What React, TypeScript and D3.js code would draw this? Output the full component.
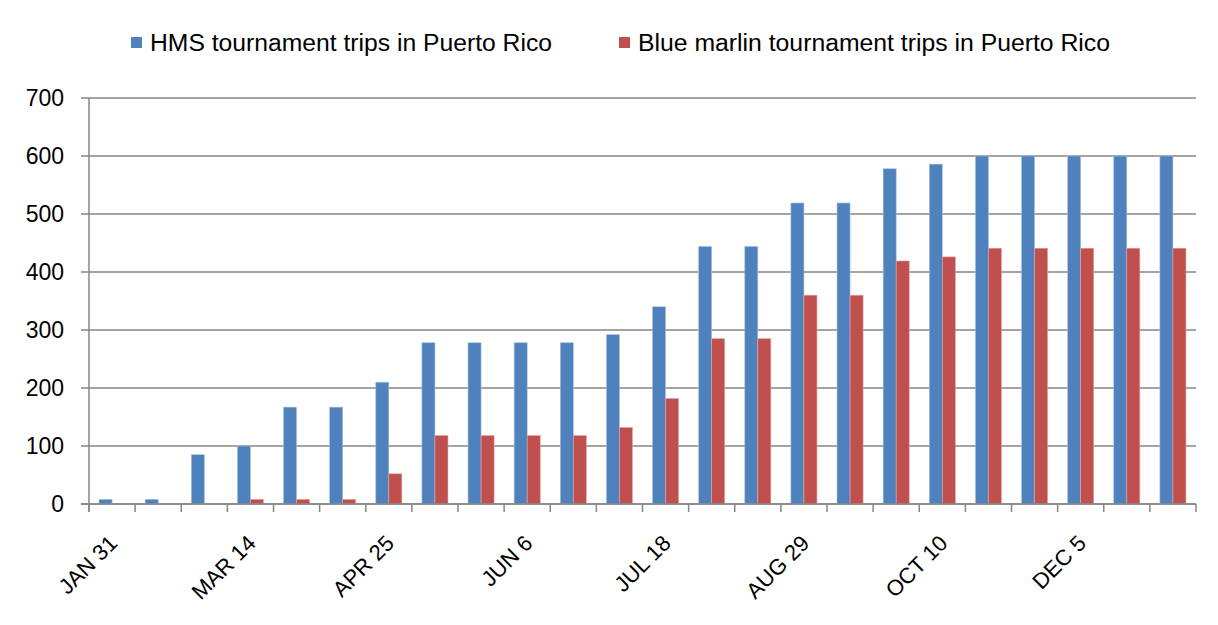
import React, { useEffect, useRef } from 'react';
import * as d3 from 'd3';

const categories = [
  'JAN 31', 'c2', 'c3', 'MAR 14', 'c5', 'c6', 'APR 25', 'c8', 'c9', 'JUN 6', 'c11', 'c12',
  'JUL 18', 'c14', 'c15', 'AUG 29', 'c17', 'c18', 'OCT 10', 'c20', 'c21', 'DEC 5', 'c23', 'c24',
];
const shownLabels = ['JAN 31', 'MAR 14', 'APR 25', 'JUN 6', 'JUL 18', 'AUG 29', 'OCT 10', 'DEC 5'];

const hmsTrips = [8, 8, 85, 100, 167, 167, 210, 278, 278, 278, 278, 292, 340, 444, 444, 519, 519, 578, 586, 600, 600, 600, 600, 600];
const blueMarlinTrips = [0, 0, 0, 8, 8, 8, 52, 118, 118, 118, 118, 132, 182, 285, 285, 360, 360, 419, 426, 441, 441, 441, 441, 441];

const seriesNames = ['HMS tournament trips in Puerto Rico', 'Blue marlin tournament trips in Puerto Rico'];
const seriesColors = ['#4f81bd', '#c0504d'];
const yTicks = [0, 100, 200, 300, 400, 500, 600, 700];

const W = 1218;
const H = 625;

const App: React.FC = () => {
  const svgRef = useRef<SVGSVGElement>(null);

  useEffect(() => {
    if (!svgRef.current) return;
    const svg = d3.select(svgRef.current);
    svg.selectAll('*').remove();

    const margin = { top: 98, right: 22, bottom: 121, left: 89 };
    const width = W - margin.left - margin.right;
    const height = H - margin.top - margin.bottom;
    const font = '"Liberation Sans", Arial, sans-serif';

    // chart frame
    svg.append('line').attr('x1', 6).attr('x2', W).attr('y1', 5).attr('y2', 5).attr('stroke', '#888').attr('stroke-width', 2);
    svg.append('line').attr('x1', 7).attr('x2', 7).attr('y1', 4).attr('y2', 624).attr('stroke', '#888').attr('stroke-width', 2);
    svg.append('line').attr('x1', 6).attr('x2', W).attr('y1', 624).attr('y2', 624).attr('stroke', '#ccc').attr('stroke-width', 2);

    const g = svg.append('g').attr('transform', `translate(${margin.left},${margin.top})`);

    const x0 = d3.scaleBand().domain(categories).range([0, width]).paddingInner(0.435).paddingOuter(0.2175);
    const x1 = d3.scaleBand().domain(['0', '1']).range([0, x0.bandwidth()]);
    const y = d3.scaleLinear().domain([0, 700]).range([height, 0]);

    // grid lines
    g.append('g')
      .selectAll('line')
      .data(yTicks)
      .enter()
      .append('line')
      .attr('x1', -8)
      .attr('x2', width)
      .attr('y1', d => y(d))
      .attr('y2', d => y(d))
      .attr('stroke', '#868686')
      .attr('stroke-width', 1.5);

    g.append('g')
      .selectAll('text')
      .data(yTicks)
      .enter()
      .append('text')
      .attr('x', -25)
      .attr('y', d => y(d))
      .attr('dy', '0.36em')
      .attr('text-anchor', 'end')
      .attr('font-family', font)
      .attr('font-size', 23)
      .attr('fill', '#000')
      .text(d => d);

    // bars
    const groups = g.selectAll('.grp')
      .data(categories)
      .enter()
      .append('g')
      .attr('transform', d => `translate(${x0(d)},0)`);

    [hmsTrips, blueMarlinTrips].forEach((vals, si) => {
      groups.append('rect')
        .attr('x', x1(String(si)) || 0)
        .attr('y', (_, i) => y(vals[i]))
        .attr('width', x1.bandwidth())
        .attr('height', (_, i) => y(0) - y(vals[i]))
        .attr('fill', seriesColors[si])
        .attr('stroke', si === 0 ? '#a9c0e0' : '#e2a3a2')
        .attr('stroke-width', 0.6)
        .attr('display', (_, i) => (vals[i] > 0 ? null : 'none'));
    });

    // axes lines
    g.append('line').attr('x1', 0).attr('x2', 0).attr('y1', 0).attr('y2', height + 8).attr('stroke', '#868686').attr('stroke-width', 1.5);
    g.append('line').attr('x1', -8).attr('x2', width).attr('y1', height).attr('y2', height).attr('stroke', '#868686').attr('stroke-width', 1.5);

    const step = x0.step();
    g.append('g')
      .selectAll('line')
      .data(d3.range(categories.length + 1))
      .enter()
      .append('line')
      .attr('x1', d => d * step)
      .attr('x2', d => d * step)
      .attr('y1', height)
      .attr('y2', height + 8)
      .attr('stroke', '#868686')
      .attr('stroke-width', 1.5);

    // x labels
    g.append('g')
      .selectAll('text')
      .data(categories.filter(c => shownLabels.includes(c)))
      .enter()
      .append('text')
      .attr('transform', d => `translate(${(x0(d) || 0) + x0.bandwidth() / 2 + 1},${height + 35}) rotate(-45)`)
      .attr('text-anchor', 'end')
      .attr('dy', '0.36em')
      .attr('font-family', font)
      .attr('font-size', 22)
      .attr('fill', '#000')
      .text(d => d);

    // legend
    const legendX = [131, 619];
    seriesNames.forEach((name, i) => {
      const lg = svg.append('g').attr('transform', `translate(${legendX[i]},43)`);
      lg.append('rect').attr('x', 0).attr('y', -6).attr('width', 11).attr('height', 11).attr('fill', seriesColors[i]);
      lg.append('text')
        .attr('x', 19)
        .attr('y', 0)
        .attr('dy', '0.36em')
        .attr('font-family', font)
        .attr('font-size', 23)
        .attr('fill', '#000')
        .attr('textLength', i === 0 ? 402 : 472)
        .attr('lengthAdjust', 'spacingAndGlyphs')
        .text(name);
    });
  }, []);

  return (
    <div style={{ margin: -8 }}>
      <svg ref={svgRef} width={W} height={H} style={{ display: 'block', background: '#fff' }} />
    </div>
  );
};

export default App;
